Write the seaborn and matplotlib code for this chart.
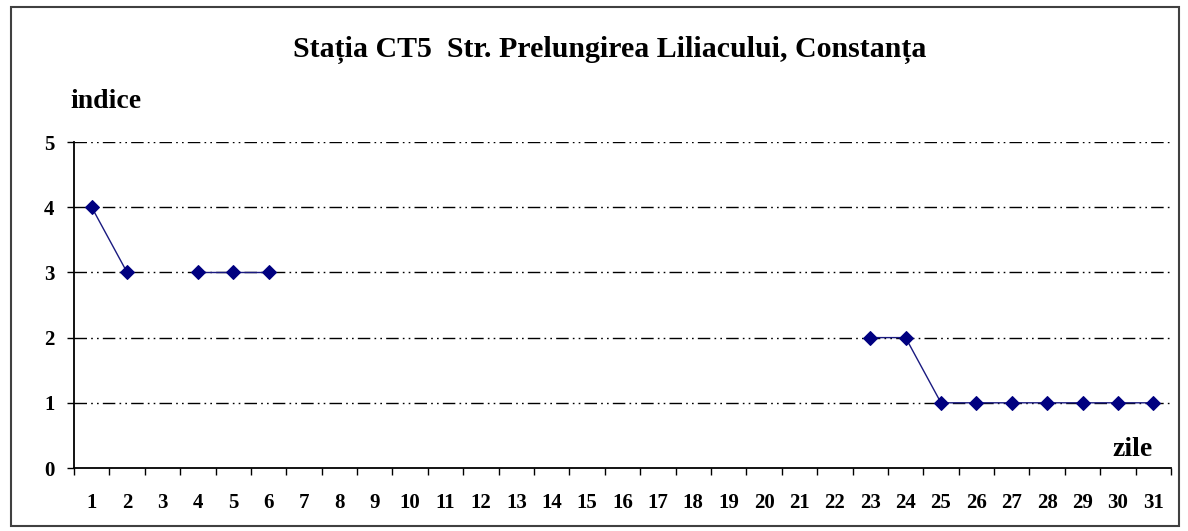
import numpy as np
import pandas as pd
import matplotlib
matplotlib.use("Agg")
import matplotlib.pyplot as plt
import seaborn as sns
from matplotlib.patches import Rectangle

zile = list(range(1, 32))
indice = [4, 3, np.nan, 3, 3, 3] + [np.nan] * 16 + [2, 2] + [1] * 7

title = "Stația CT5  Str. Prelungirea Liliacului, Constanța"

sns.set_theme(style="white")
plt.rcParams["font.family"] = ["Liberation Serif", "DejaVu Serif"]
plt.rcParams["font.weight"] = "bold"
plt.rcParams["text.color"] = "black"
plt.rcParams["xtick.color"] = "black"
plt.rcParams["ytick.color"] = "black"

df = pd.DataFrame({"zi": zile, "indice": indice})
# split into runs of consecutive values so gaps stay open
df["seg"] = df["indice"].isna().cumsum()
df = df.dropna()

fig = plt.figure(figsize=(11.88, 5.31), dpi=100)
ax = fig.add_axes([74 / 1188, 1 - 468 / 531, (1171 - 74) / 1188, (468 - 142) / 531])

sns.lineplot(data=df, x="zi", y="indice", units="seg", estimator=None,
             color="#1a1a80", lw=1.0, marker="D", markersize=7.5,
             markeredgecolor="#000080", markerfacecolor="#000080", ax=ax, zorder=3)

ax.set_xlim(0.5, 31.5)
ax.set_ylim(0, 5)
ax.set_yticks(range(0, 6))
ax.set_xticks(np.arange(0.5, 32, 1))
ax.set_xticklabels([])
ax.set_xticks(zile, minor=True)
ax.set_xticklabels([str(z) for z in zile], minor=True)
ax.tick_params(axis="x", which="major", direction="out", length=5, width=1, color="black", bottom=True)
ax.tick_params(axis="x", which="minor", length=0, pad=18, labelsize=15, labelcolor="black")
ax.tick_params(axis="y", direction="out", length=5, width=1, color="black", left=True, pad=9,
               labelsize=15, labelcolor="black")

for y in range(1, 6):
    ax.axhline(y, color="black", lw=1.0, ls=(0, (9, 3, 1.2, 3, 1.2, 3)), zorder=1)

for s in ["top", "right"]:
    ax.spines[s].set_visible(False)
for s in ["left", "bottom"]:
    ax.spines[s].set_color("black")
    ax.spines[s].set_linewidth(1.3)
ax.set_xlabel("")
ax.set_ylabel("")

fig.text(610 / 1188, 1 - 50 / 531, title, ha="center", va="center", fontsize=21.5, fontweight="bold")
fig.text(70 / 1188, 1 - 101 / 531, "indice", ha="left", va="center", fontsize=20, fontweight="bold")
fig.text(1153 / 1188, 1 - 450 / 531, "zile", ha="right", va="center", fontsize=20, fontweight="bold")

fig.patches.append(Rectangle((11 / 1188, 1 - 526 / 531), (1179 - 11) / 1188, (526 - 7) / 531,
                             transform=fig.transFigure, fill=False, edgecolor="#404040", lw=1.5))

fig.savefig("out.png", dpi=100)
